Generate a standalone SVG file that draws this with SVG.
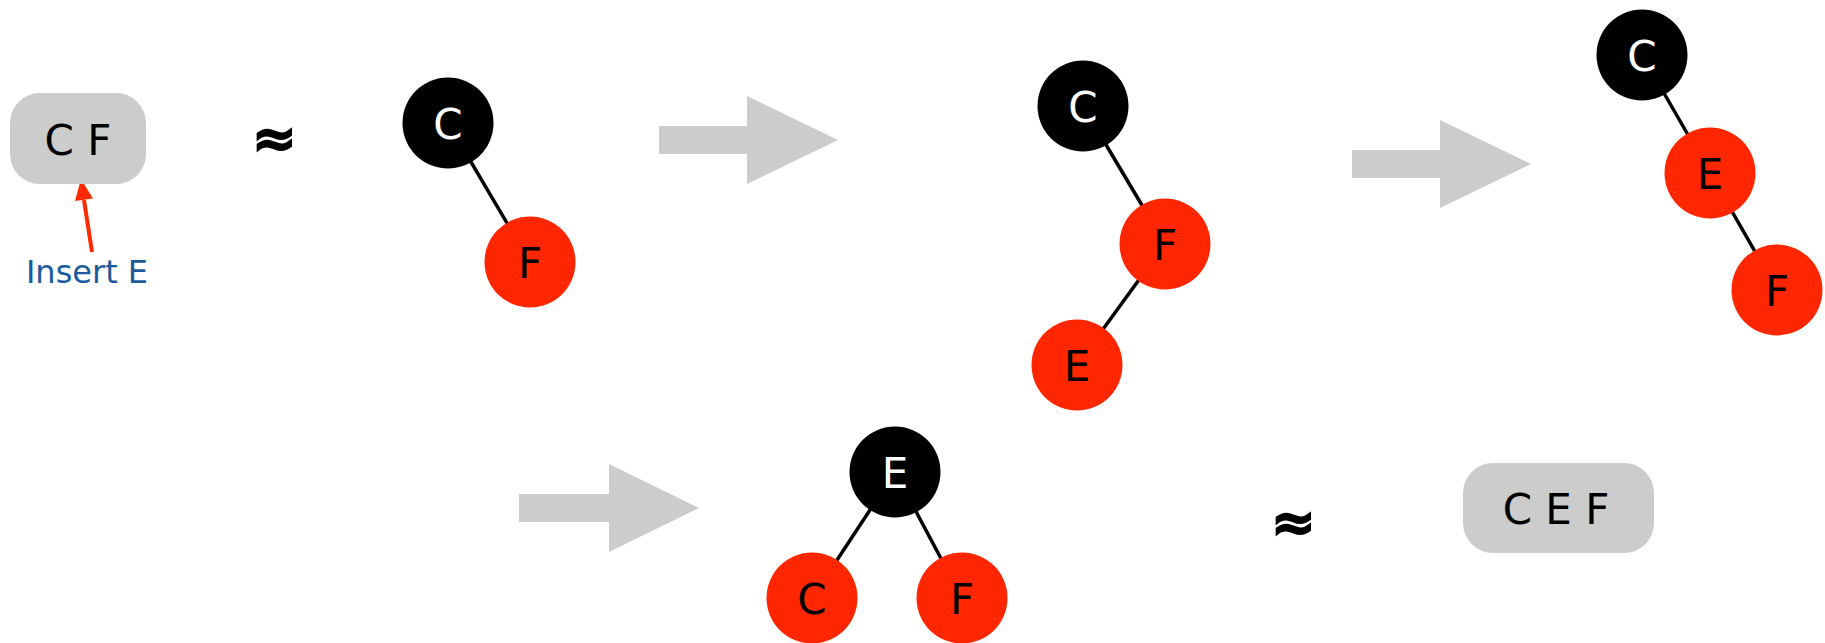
<svg xmlns="http://www.w3.org/2000/svg" width="1825" height="643" viewBox="0 0 1825 643">
<style>
.box{fill:#cccccc}
.blk{fill:#000000}
.red{fill:#ff2600}
.edge{stroke:#000;stroke-width:3.5}
.arr{fill:#cccccc}
.t{font-family:"DejaVu Sans","Liberation Sans",sans-serif;font-size:42px;text-anchor:middle}
.w{fill:#ffffff}
.k{fill:#000000}
.approx{font-family:"DejaVu Sans","Liberation Sans",sans-serif;font-size:54px;font-weight:bold;text-anchor:middle;fill:#000;stroke:#000;stroke-width:1.5}
</style>
<g id="connectors">
<line class="edge" x1="448" y1="123" x2="530" y2="262"/>
<line class="edge" x1="1083" y1="106" x2="1165" y2="244"/>
<line class="edge" x1="1165" y1="244" x2="1077" y2="365"/>
<line class="edge" x1="1642" y1="55" x2="1710" y2="173"/>
<line class="edge" x1="1710" y1="173" x2="1777" y2="290"/>
<line class="edge" x1="895" y1="472" x2="812" y2="598"/>
<line class="edge" x1="895" y1="472" x2="962" y2="598"/>
<line x1="92" y1="252" x2="84" y2="200" stroke="#ff2a00" stroke-width="4"/>
<polygon points="81,179 75,201 93,198.5" fill="#ff2a00"/>
</g>
<g id="box1">
<rect class="box" x="10" y="93" width="136" height="91" rx="30"/>
<text class="t k" x="78" y="155">C F</text>
</g>
<g id="label-insert">
<text x="87" y="283" font-family="DejaVu Sans,Liberation Sans,sans-serif" font-size="32" text-anchor="middle" fill="#1b5a9b">Insert E</text>
</g>
<g id="approx1"><text class="approx" x="274" y="157">≈</text></g>
<g id="arrow1"><polygon class="arr" points="659,126 747,126 747,96 838,140 747,184 747,154 659,154"/></g>
<g id="arrow2"><polygon class="arr" points="1352,150 1440,150 1440,120 1531,164 1440,208 1440,178 1352,178"/></g>
<g id="arrow3"><polygon class="arr" points="519,494 609,494 609,464 699,508 609,552 609,522 519,522"/></g>
<g id="t1-C"><circle class="blk" cx="448" cy="123" r="45.5"/><text class="t w" x="448" y="139" font-size="44">C</text></g>
<g id="t1-F"><circle class="red" cx="530" cy="262" r="45.5"/><text class="t k" x="530" y="278" font-size="44">F</text></g>
<g id="t2-C"><circle class="blk" cx="1083" cy="106" r="45.5"/><text class="t w" x="1083" y="122" font-size="44">C</text></g>
<g id="t2-F"><circle class="red" cx="1165" cy="244" r="45.5"/><text class="t k" x="1165" y="260" font-size="44">F</text></g>
<g id="t2-E"><circle class="red" cx="1077" cy="365" r="45.5"/><text class="t k" x="1077" y="381" font-size="44">E</text></g>
<g id="t3-C"><circle class="blk" cx="1642" cy="55" r="45.5"/><text class="t w" x="1642" y="71" font-size="44">C</text></g>
<g id="t3-E"><circle class="red" cx="1710" cy="173" r="45.5"/><text class="t k" x="1710" y="189" font-size="44">E</text></g>
<g id="t3-F"><circle class="red" cx="1777" cy="290" r="45.5"/><text class="t k" x="1777" y="306" font-size="44">F</text></g>
<g id="t4-E"><circle class="blk" cx="895" cy="472" r="45.5"/><text class="t w" x="895" y="488" font-size="44">E</text></g>
<g id="t4-C"><circle class="red" cx="812" cy="598" r="45.5"/><text class="t k" x="812" y="614" font-size="44">C</text></g>
<g id="t4-F"><circle class="red" cx="962" cy="598" r="45.5"/><text class="t k" x="962" y="614" font-size="44">F</text></g>
<g id="approx2"><text class="approx" x="1293" y="541">≈</text></g>
<g id="box2">
<rect class="box" x="1463" y="463" width="191" height="90" rx="30"/>
<text class="t k" x="1556" y="524">C E F</text>
</g>
</svg>
